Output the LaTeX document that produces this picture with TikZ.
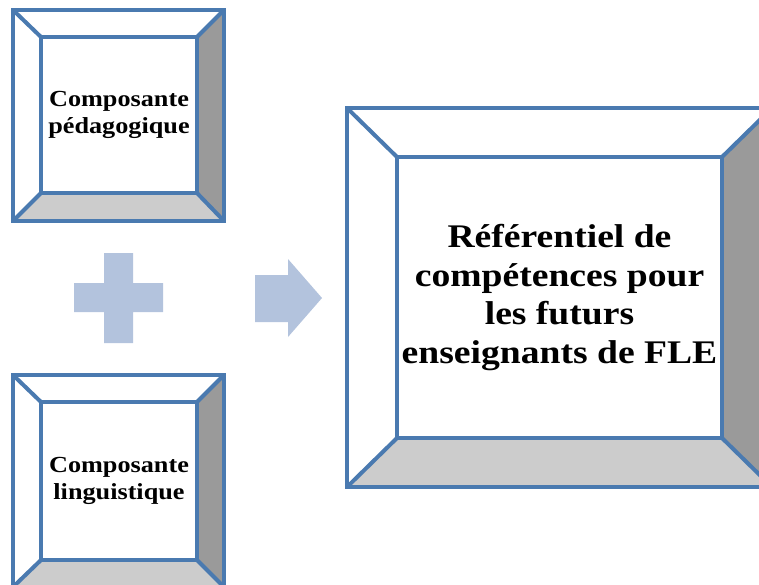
\documentclass[tikz,border=0pt]{standalone}
\usepackage{fontspec}
\setmainfont{Liberation Serif}[FakeStretch=1.14]
\definecolor{bord}{HTML}{4A7AB0}
\definecolor{darkbev}{HTML}{9A9A9A}
\definecolor{lightbev}{HTML}{CCCCCC}
\definecolor{shapeblue}{HTML}{B3C3DD}
\tikzset{
  edge/.style={draw=bord,line width=4pt},
  innerbox/.style={edge, fill=white, inner sep=0pt, align=center, font=\bfseries},
  smalltext/.style={font=\bfseries\fontsize{23}{27.5}\selectfont},
  bigtext/.style={font=\bfseries\fontsize{33}{38.5}\selectfont}
}
\begin{document}
\begin{tikzpicture}[x=1pt,y=-1pt]
\useasboundingbox (0,0) rectangle (759,584);
\clip (0,0) rectangle (759,584);

% ---- top box
\fill[white] (13,10) rectangle (224,221);
\fill[darkbev] (224,10) -- (197,37) -- (197,193) -- (224,221) -- cycle;
\fill[lightbev] (13,221) -- (41,193) -- (197,193) -- (224,221) -- cycle;
\draw[edge] (13,10) rectangle (224,221);
\draw[edge] (13,10) -- (41,37) (224,10) -- (197,37) (13,221) -- (41,193) (224,221) -- (197,193);
\node[innerbox, smalltext, minimum width=156pt, minimum height=156pt] (peda) at (119,115) {Composante\\pédagogique};

% ---- bottom box
\fill[white] (13,375) rectangle (224,587);
\fill[darkbev] (224,375) -- (197,402) -- (197,560) -- (224,587) -- cycle;
\fill[lightbev] (13,587) -- (41,560) -- (197,560) -- (224,587) -- cycle;
\draw[edge] (13,375) rectangle (224,587);
\draw[edge] (13,375) -- (41,402) (224,375) -- (197,402) (13,587) -- (41,560) (224,587) -- (197,560);
\node[innerbox, smalltext, minimum width=156pt, minimum height=158pt] (ling) at (119,481) {Composante\\linguistique};

% ---- big box
\fill[white] (347,108) rectangle (772,487);
\fill[darkbev] (772,108) -- (722,157) -- (722,438) -- (772,487) -- cycle;
\fill[lightbev] (347,487) -- (397,438) -- (722,438) -- (772,487) -- cycle;
\draw[edge] (347,108) rectangle (772,487);
\draw[edge] (347,108) -- (397,157) (772,108) -- (722,157) (347,487) -- (397,438) (772,487) -- (722,438);
\node[innerbox, bigtext, minimum width=325pt, minimum height=281pt] (ref) at (559.5,297.5) {Référentiel de\\compétences pour\\les futurs\\enseignants de FLE};

% ---- plus
\fill[shapeblue] (104,253) -- (133,253) -- (133,283) -- (163,283) -- (163,312) -- (133,312) -- (133,343) -- (104,343) -- (104,312) -- (74,312) -- (74,283) -- (104,283) -- cycle;

% ---- arrow
\fill[shapeblue] (255,275) -- (288,275) -- (288,259) -- (322,298) -- (288,337) -- (288,322) -- (255,322) -- cycle;
\end{tikzpicture}
\end{document}
